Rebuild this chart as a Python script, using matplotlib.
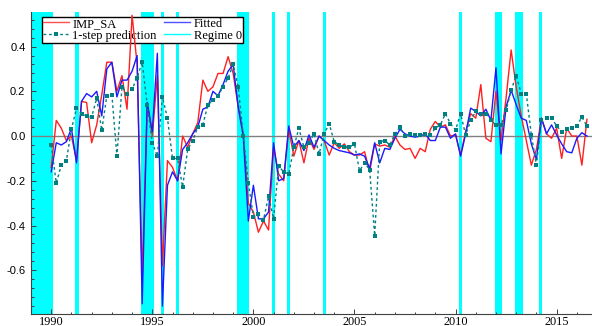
import numpy as np
import matplotlib
matplotlib.use("Agg")
import matplotlib.pyplot as plt
from matplotlib.ticker import MultipleLocator, FormatStrFormatter
from matplotlib.lines import Line2D

# quarterly series, 1990Q1 .. 2016Q3
imp_sa = [
    -0.14, 0.07, 0.035, -0.02, 0.0, -0.11, 0.155, 0.15, -0.03, 0.05,
    0.185, 0.33, 0.33, 0.2, 0.27, 0.12, 0.54, 0.32, -0.63, 0.15,
    0.0, 0.27, -0.58, -0.11, -0.14, -0.2, 0.0, -0.05, 0.01, 0.06,
    0.25, 0.2, 0.22, 0.28, 0.28, 0.355, 0.28, 0.13, 0.01, -0.3,
    -0.34, -0.43, -0.38, -0.42, -0.05, -0.17, -0.2, 0.03, -0.09, -0.02,
    -0.12, -0.01, -0.06, 0.0, -0.02, -0.085, -0.03, -0.055, -0.035, -0.07,
    -0.085, -0.085, -0.07, -0.16, -0.035, -0.045, -0.04, -0.05, 0.0, -0.04,
    -0.06, -0.055, -0.1, -0.055, -0.07, 0.03, 0.065, 0.04, 0.05, 0.0,
    0.005, -0.085, 0.02, 0.1, 0.08, 0.23, -0.01, -0.025, 0.2, -0.02,
    0.17, 0.385, 0.22, 0.09, -0.02, -0.13, -0.06, 0.08, 0.01, -0.01,
    0.035, -0.1, 0.035, 0.0, 0.0, -0.13, 0.075,
]
fitted = [
    -0.16, -0.03, -0.04, -0.025, 0.035, -0.12, 0.155, 0.19, 0.175, 0.2,
    0.09, 0.3, 0.33, 0.175, 0.25, 0.25, 0.29, 0.36, -0.75, 0.15,
    0.02, 0.37, -0.76, -0.22, -0.16, -0.2, -0.06, -0.03, 0.01, 0.04,
    0.12, 0.13, 0.2, 0.18, 0.23, 0.29, 0.32, 0.13, 0.0, -0.38,
    -0.22, -0.37, -0.37, -0.34, -0.03, -0.2, -0.19, 0.045, -0.05, -0.02,
    -0.065, 0.005, -0.05, 0.0, -0.02, -0.04, -0.055, -0.065, -0.07, -0.075,
    -0.085, -0.08, -0.09, -0.145, -0.03, -0.12, -0.055, -0.06, -0.01, 0.03,
    0.01, 0.0, -0.005, 0.0, 0.01, -0.02, -0.02, 0.04, 0.04, -0.01,
    0.01, -0.09, 0.01, 0.125, 0.11, 0.09, 0.12, 0.07, 0.305, -0.08,
    0.13, 0.205, 0.14, 0.08, 0.07, -0.035, -0.105, 0.08, 0.01, 0.05,
    0.005, -0.035, -0.07, -0.075, -0.01, 0.015, 0.0,
]
one_step = [
    -0.04, -0.21, -0.13, -0.11, 0.03, 0.125, 0.1, 0.09, 0.085, 0.17,
    0.025, 0.18, 0.185, -0.09, 0.22, 0.19, 0.21, 0.26, 0.33, 0.14,
    -0.03, -0.09, 0.175, 0.08, -0.1, -0.1, -0.227, -0.06, -0.02, 0.04,
    0.05, 0.14, 0.16, 0.18, 0.22, 0.26, 0.32, 0.22, 0.0, -0.21,
    -0.36, -0.35, -0.375, -0.27, -0.37, -0.135, -0.16, -0.17, -0.05, 0.035,
    -0.05, -0.03, 0.01, -0.08, 0.01, 0.055, -0.025, -0.04, -0.05, -0.05,
    -0.035, -0.155, -0.12, -0.15, -0.445, -0.025, -0.02, -0.04, 0.01, 0.04,
    0.0, 0.01, 0.005, 0.005, 0.01, 0.005, 0.035, 0.05, 0.1, 0.055,
    0.027, 0.1, 0.005, 0.07, 0.11, 0.1, 0.1, 0.07, 0.05, 0.05,
    0.115, 0.205, 0.27, 0.19, 0.19, 0.005, -0.13, 0.07, 0.08, 0.08,
    0.045, 0.02, 0.03, 0.035, 0.045, 0.085, 0.045,
]

# periods classified as regime 0 (shaded)
regime0_start = [1989.0, 1991.2, 1994.45, 1995.44, 1996.19, 1999.18, 2000.92,
                 2001.65, 2003.43, 2010.19, 2011.95, 2012.92, 2014.15]
regime0_end = [1990.07, 1991.35, 1995.07, 1995.59, 1996.32, 1999.8, 2001.06,
               2001.8, 2003.6, 2010.33, 2012.3, 2013.32, 2014.3]

year_ticks = [1990, 1995, 2000, 2005, 2010, 2015]

quarters = 1990 + np.arange(len(imp_sa)) / 4.0

fig = plt.figure(figsize=(5.92, 3.26), dpi=100)
ax = fig.add_axes([31 / 592, 11.7 / 326, 561 / 592, 302.6 / 326])

for s, e in zip(regime0_start, regime0_end):
    ax.axvspan(s, e, color='#00ffff', lw=0, zorder=1)
ax.axhline(0, color='#808080', lw=1, zorder=2)

ax.plot(quarters, imp_sa, color='#ff2020', lw=1, zorder=3)
ax.plot(quarters, fitted, color='#1a1aff', lw=1, zorder=4)
ax.plot(quarters, one_step, color='#008080', lw=1, ls=(0, (2, 2)),
        marker='s', ms=2.6, mew=0, zorder=5)

ax.set_xlim(1989.0, 2016.75)
ax.set_ylim(-0.797, 0.556)

ax.spines['top'].set_visible(False)
ax.spines['right'].set_visible(False)
for side in ['left', 'bottom']:
    ax.spines[side].set_color('#404040')
    ax.spines[side].set_linewidth(0.8)

ax.set_xticks(year_ticks)
ax.xaxis.set_minor_locator(MultipleLocator(1))
ax.yaxis.set_major_locator(MultipleLocator(0.2))
ax.yaxis.set_minor_locator(MultipleLocator(0.04))
ax.yaxis.set_major_formatter(FormatStrFormatter('%.1f'))
ax.tick_params(which='both', direction='in', color='#404040', width=0.7)
ax.tick_params(which='major', length=3.5)
ax.tick_params(which='minor', length=1.8)
ax.tick_params(axis='y', pad=4)
ax.tick_params(axis='x', pad=1)
for lab in ax.get_yticklabels():
    lab.set_fontfamily('Liberation Sans')
    lab.set_fontsize(8)
for lab in ax.get_xticklabels():
    lab.set_fontfamily('Liberation Serif')
    lab.set_fontsize(8.8)

handles = [
    Line2D([], [], color='#ff5050', lw=1),
    Line2D([], [], color='#008080', lw=1, ls=(0, (2, 2)), marker='s', ms=2.6, mew=0),
    Line2D([], [], color='#5050ff', lw=1),
    Line2D([], [], color='#00ffff', lw=1),
]
labels = ['IMP_SA', '1-step prediction', 'Fitted', 'Regime 0']
leg = ax.legend(handles, labels, ncol=2, loc='upper left',
                bbox_to_anchor=(0.019, 0.984), fancybox=False, framealpha=1,
                edgecolor='black', prop={'family': 'Liberation Serif', 'size': 9},
                borderpad=0.1, labelspacing=0.0, handlelength=2.1,
                handletextpad=0.25, columnspacing=0.6, borderaxespad=0)
leg.get_frame().set_linewidth(1.0)
# legend sits above the shading but beneath the series
leg.set_zorder(2.5)

fig.savefig('out.png', dpi=100)
